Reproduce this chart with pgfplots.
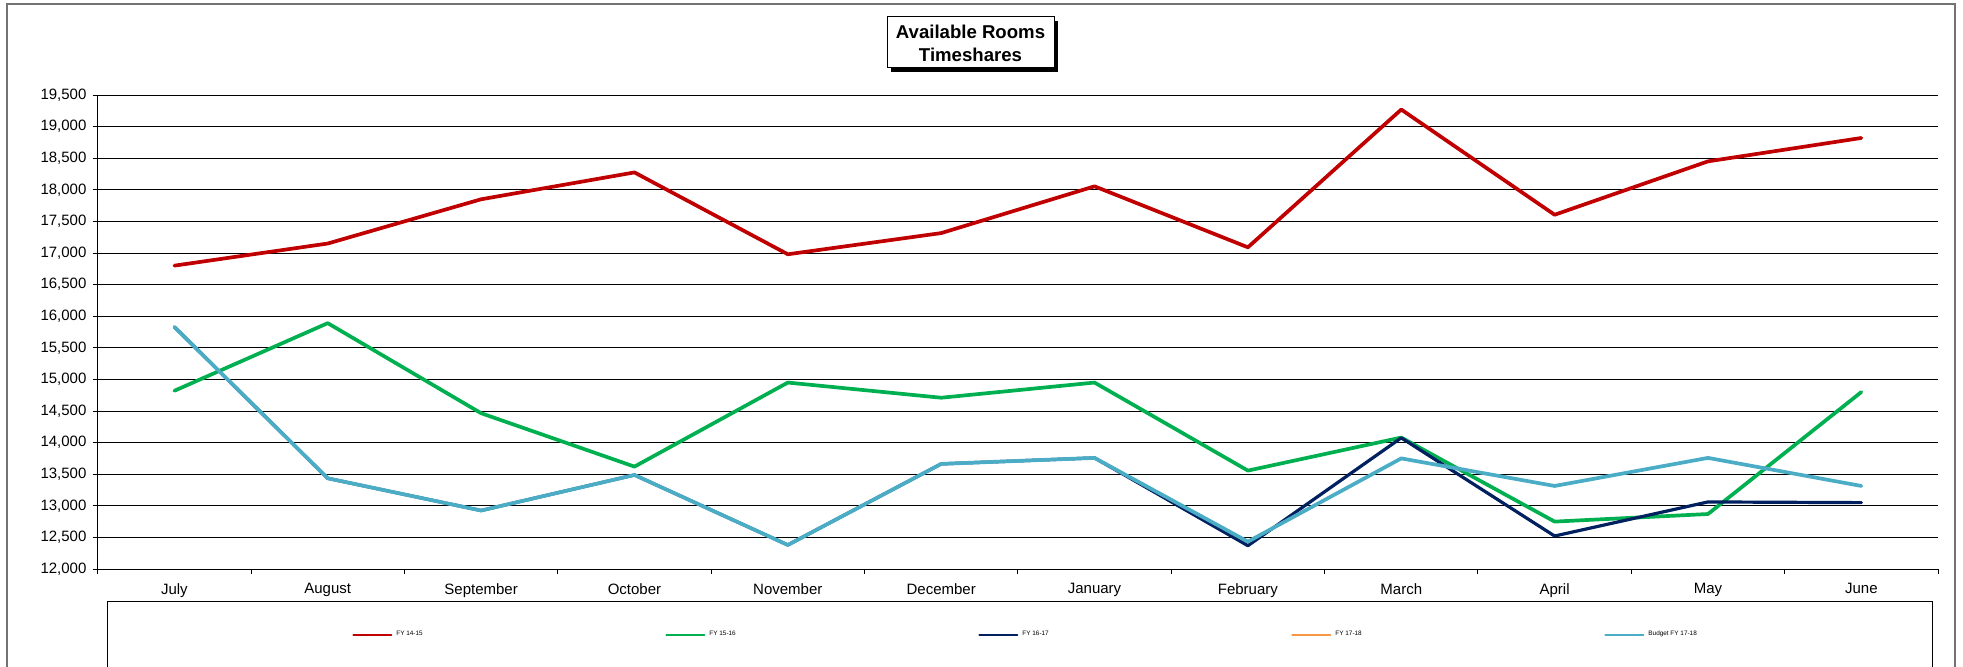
\documentclass[border=0pt]{standalone}
\usepackage{fontspec}
\setmainfont{Liberation Sans}
\usepackage{pgfplots}
\pgfplotsset{compat=1.18}
\definecolor{cRed}{HTML}{C00000}
\definecolor{cGreen}{HTML}{00B050}
\definecolor{cNavy}{HTML}{002060}
\definecolor{cOrange}{HTML}{F79646}
\definecolor{cCyan}{HTML}{4BACC6}
\begin{document}
\begin{tikzpicture}[x=0.5pt,y=-0.5pt]
\useasboundingbox (0,0) rectangle (1963,667);
% outer chart frame
\draw[color=black!55, line width=0.85pt] (6.7,690) -- (6.7,4) -- (1955,4) -- (1955,690);
% legend frame
\draw[black, line width=0.5pt] (107,690) -- (107,601) -- (1932,601) -- (1932,690);
% title box with shadow
\fill[black] (891,21) rectangle (1058,72);
\draw[black, fill=white, line width=0.5pt] (887,17) rectangle (1054,68);
\node[align=center, font=\bfseries\fontsize{9.3}{11.4}\selectfont, inner sep=0pt] at (970.5,43) {Available Rooms\\Timeshares};
\coordinate (sw) at (97.7,569);
\begin{axis}[
  at={(sw)}, anchor=south west,
  scale only axis, width=920.15pt, height=237pt,
  xmin=-0.5, xmax=11.5, ymin=12000, ymax=19500,
  ytick={12000,12500,...,19500},
  xtick={-0.5,0.5,...,11.5},
  x tick label as interval,
  xticklabels={July,August,September,October,November,December,January,February,March,April,May,June},
  axis x line*=bottom, axis y line*=left,
  ymajorgrids,
  grid style={black, line width=0.5pt},
  tick align=outside, major tick length=2.5pt,
  tick style={black, line width=0.5pt},
  axis line style={black, line width=0.5pt, -},
  ticklabel style={font=\fontsize{7.5}{9}\selectfont},
  xticklabel style={yshift=-1.2pt},
  yticklabel style={xshift=0.4pt, /pgf/number format/.cd, 1000 sep={,}},
  scaled y ticks=false,
  /pgf/number format/assume math mode=true,
  legend columns=5,
  legend cell align=left,
  legend style={at={(0.1382,-0.139)}, anchor=west, draw=none, fill=none, inner sep=0pt,
     font=\fontsize{3.2}{3.8}\selectfont, /tikz/every even column/.append style={column sep=0pt}},
  legend image code/.code={\draw[#1, line width=1pt] (0pt,0pt) -- (19pt,0pt);},
  every axis plot/.append style={line join=round, line cap=round},
]
\addplot[cRed, line width=1.85pt] coordinates {(0,16800)(1,17150)(2,17850)(3,18275)(4,16980)(5,17315)(6,18055)(7,17090)(8,19270)(9,17605)(10,18450)(11,18820)};
\addlegendentry{\makebox[132.5pt][l]{FY 14-15}}
\addplot[cGreen, line width=1.85pt] coordinates {(0,14820)(1,15890)(2,14465)(3,13620)(4,14950)(5,14710)(6,14950)(7,13557)(8,14080)(9,12750)(10,12870)(11,14800)};
\addlegendentry{\makebox[132.5pt][l]{FY 15-16}}
\addplot[cNavy, line width=1.6pt] coordinates {(0,15830)(1,13435)(2,12925)(3,13488)(4,12380)(5,13663)(6,13758)(7,12369)(8,14075)(9,12522)(10,13061)(11,13050)};
\addlegendentry{\makebox[132.5pt][l]{FY 16-17}}
\addlegendimage{cOrange, line width=1.65pt}
\addlegendentry{\makebox[132.5pt][l]{FY 17-18}}
\addplot[cCyan, line width=1.85pt] coordinates {(0,15830)(1,13435)(2,12925)(3,13488)(4,12380)(5,13663)(6,13758)(7,12433)(8,13750)(9,13314)(10,13758)(11,13314)};
\addlegendentry{\makebox[132.5pt][l]{Budget FY 17-18}}
\end{axis}
\end{tikzpicture}
\end{document}
